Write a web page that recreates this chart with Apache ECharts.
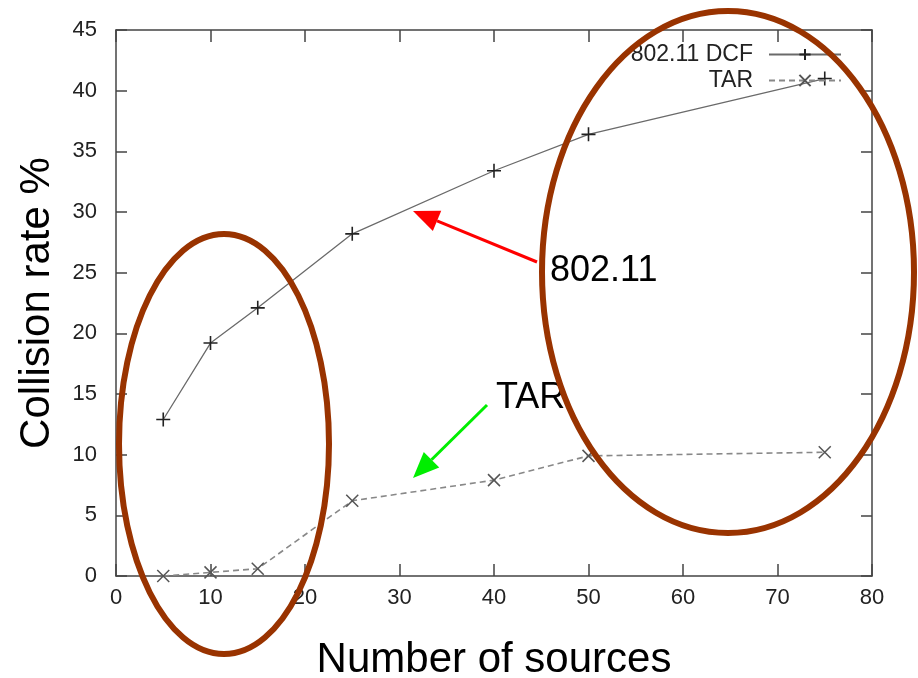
<!DOCTYPE html>
<html><head><meta charset="utf-8">
<script src="https://cdn.jsdelivr.net/npm/echarts@6/dist/echarts.min.js"></script>
<style>html,body{margin:0;padding:0;background:#fff}#c{width:918px;height:678px}</style>
</head><body><div id="c"></div>
<script>
const sources = [5, 10, 15, 25, 40, 50, 75];
const dcfRate = [12.9, 19.2, 22.1, 28.2, 33.4, 36.4, 41.0];
const tarRate = [0.0, 0.3, 0.6, 6.2, 7.9, 9.9, 10.2];
const seriesNames = ['802.11 DCF', 'TAR'];
const xTicks = [0, 10, 20, 30, 40, 50, 60, 70, 80];
const yTicks = [0, 5, 10, 15, 20, 25, 30, 35, 40, 45];

const FONT = "'Liberation Sans', Arial, sans-serif";
const axisCol = '#444';
const chart = echarts.init(document.getElementById('c'), null, {renderer: 'canvas'});

function xAx(pos, labels) {
  return {
    type: 'value', position: pos, min: xTicks[0], max: xTicks[xTicks.length - 1], interval: 10,
    axisLine: {show: true, onZero: false, lineStyle: {color: axisCol, width: 1.5}},
    axisTick: {show: true, inside: true, length: 12, lineStyle: {color: axisCol, width: 1.5}},
    axisLabel: {show: labels, color: '#222', fontSize: 22, fontFamily: FONT, margin: 11},
    splitLine: {show: false},
    name: labels ? 'Number of sources' : '', nameLocation: 'middle', nameGap: 63,
    nameTextStyle: {fontSize: 42, color: '#000', fontFamily: FONT}
  };
}
function yAx(pos, labels) {
  return {
    type: 'value', position: pos, min: yTicks[0], max: yTicks[yTicks.length - 1], interval: 5,
    axisLine: {show: true, onZero: false, lineStyle: {color: axisCol, width: 1.5}},
    axisTick: {show: true, inside: true, length: 11, lineStyle: {color: axisCol, width: 1.5}},
    axisLabel: {show: labels, color: '#222', fontSize: 22, fontFamily: FONT, margin: 19},
    splitLine: {show: false},
    name: labels ? 'Collision rate %' : '', nameLocation: 'middle', nameGap: 58,
    nameTextStyle: {fontSize: 42, color: '#000', fontFamily: FONT}
  };
}

const plusPath = 'path://M0,-7L0,7M-7,0L7,0';
const crossPath = 'path://M-7,-7L7,7M-7,7L7,-7';

chart.setOption({
  animation: false,
  backgroundColor: '#fff',
  grid: {left: 116, right: 46, top: 30, bottom: 102, containLabel: false, outerBoundsMode: 'none'},
  xAxis: [xAx('bottom', true), xAx('top', false)],
  yAxis: [yAx('left', true), yAx('right', false)],
  legend: {
    orient: 'vertical', align: 'right', right: 71, top: 38, itemWidth: 72, itemHeight: 14, itemGap: 3,
    textStyle: {fontSize: 23, color: '#222', fontFamily: FONT, padding: [0, 11, 0, 0]},
    data: seriesNames
  },
  series: [
    {
      name: seriesNames[0], type: 'line', data: sources.map((s, i) => [s, dcfRate[i]]),
      symbol: plusPath, symbolSize: 14,
      lineStyle: {color: '#6a6a6a', width: 1.3, type: 'solid'},
      itemStyle: {color: '#222', borderColor: '#222', borderWidth: 1.6}, z: 3
    },
    {
      name: seriesNames[1], type: 'line', data: sources.map((s, i) => [s, tarRate[i]]),
      symbol: crossPath, symbolSize: 12,
      lineStyle: {color: '#888', width: 1.6, type: [6, 4]},
      itemStyle: {color: '#555', borderColor: '#555', borderWidth: 1.5}, z: 3
    },
    {name: 'frame', type: 'line', xAxisIndex: 1, yAxisIndex: 1, data: [], silent: true}
  ]
});

function arrow(x1, y1, x2, y2, color) {
  const ang = Math.atan2(y2 - y1, x2 - x1);
  const L = 26, W = 11;
  const bx = x2 - L * Math.cos(ang), by = y2 - L * Math.sin(ang);
  const px = -Math.sin(ang) * W, py = Math.cos(ang) * W;
  return [
    {type: 'line', z: 20, shape: {x1: x1, y1: y1, x2: bx, y2: by}, style: {stroke: color, lineWidth: 3}},
    {type: 'polygon', z: 20, shape: {points: [[x2, y2], [bx + px, by + py], [bx - px, by - py]]}, style: {fill: color}}
  ];
}

const brown = '#993300';
chart.setOption({
  graphic: [
    {type: 'ellipse', z: 30, shape: {cx: 224, cy: 444, rx: 105, ry: 210}, style: {fill: null, stroke: brown, lineWidth: 6}},
    {type: 'ellipse', z: 30, shape: {cx: 728, cy: 272, rx: 186, ry: 261}, style: {fill: null, stroke: brown, lineWidth: 6}},
    ...arrow(537, 262, 413, 211, '#ff0000'),
    ...arrow(487, 405, 413, 478, '#00ee00'),
    {type: 'text', z: 25, style: {x: 550, y: 271, text: '802.11', fontSize: 36, fontFamily: FONT, fill: '#000', verticalAlign: 'middle', align: 'left'}},
    {type: 'text', z: 25, style: {x: 496, y: 398, text: 'TAR', fontSize: 36, fontFamily: FONT, fill: '#000', verticalAlign: 'middle', align: 'left'}}
  ]
});
</script></body></html>
